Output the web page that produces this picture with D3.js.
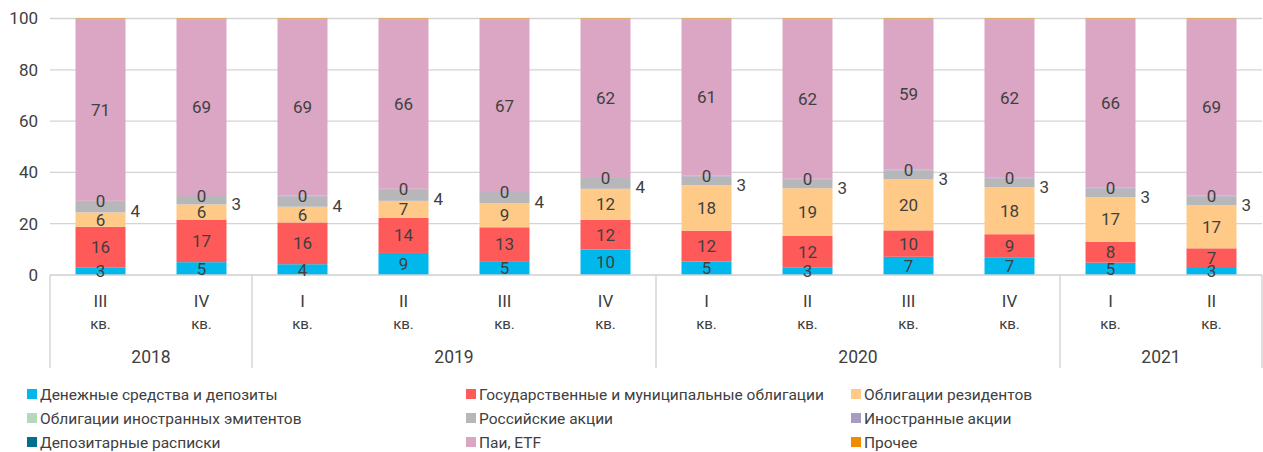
<!DOCTYPE html>
<html>
<head>
<meta charset="utf-8">
<script src="https://cdn.jsdelivr.net/npm/d3@7"></script>
<style>
  body { margin: 0; background: #fff; }
  svg text { font-family: Roboto, "Open Sans", sans-serif; fill: #404040; }
</style>
</head>
<body>
<script>
// quarters and years of the category axis
var quarters = ["III", "IV", "I", "II", "III", "IV", "I", "II", "III", "IV", "I", "II"];
var years = ["2018", "2018", "2019", "2019", "2019", "2019", "2020", "2020", "2020", "2020", "2021", "2021"];
var yTicks = [0, 20, 40, 60, 80, 100];

// shares, %
var cash        = [3.0, 5.0, 4.2, 8.6, 5.4, 9.9, 5.2, 3.0, 7.1, 6.7, 4.8, 3.1];
var govBonds    = [15.8, 16.6, 16.3, 13.7, 13.2, 11.6, 12.1, 12.2, 10.3, 9.2, 8.2, 7.3];
var resBonds    = [5.6, 5.9, 6.1, 6.6, 9.4, 12.1, 17.7, 18.6, 20.0, 18.3, 17.3, 16.9];
var forBonds    = [0, 0, 0, 0, 0, 0, 0, 0, 0, 0, 0, 0];
var rusShares   = [4.2, 3.3, 4.0, 4.4, 4.0, 4.2, 3.4, 3.4, 3.4, 3.4, 3.4, 3.3];
var forShares   = [0.3, 0.3, 0.3, 0.3, 0.3, 0.3, 0.3, 0.3, 0.3, 0.3, 0.3, 0.3];
var depReceipts = [0, 0, 0, 0, 0, 0, 0, 0, 0, 0, 0, 0];
var funds       = [70.8, 68.6, 68.8, 66.1, 67.4, 61.6, 61.0, 62.2, 58.6, 61.8, 65.7, 68.8];
var other       = [0.3, 0.3, 0.3, 0.3, 0.3, 0.3, 0.3, 0.3, 0.3, 0.3, 0.3, 0.3];

var seriesNames = [
    "Денежные средства и депозиты",
    "Государственные и муниципальные облигации",
    "Облигации резидентов",
    "Облигации иностранных эмитентов",
    "Российские акции",
    "Иностранные акции",
    "Депозитарные расписки",
    "Паи, ETF",
    "Прочее"
];
var seriesValues = [cash, govBonds, resBonds, forBonds, rusShares, forShares, depReceipts, funds, other];
var seriesColors = ["#00b8ec", "#ff5a5a", "#ffca87", "#b5d9b8", "#b7b7b9", "#a69dc0", "#00708e", "#dba6c4", "#f08c00"];
// how each series is labelled: in the bar, to the right, or not at all
var labelMode = ["in", "in", "in", "none", "right", "in", "none", "in", "none"];

var W = 1263, H = 452;
var plotLeft = 50, plotRight = 1262, plotTop = 18.5, plotBase = 275;

var svg = d3.select("body").append("svg")
    .attr("width", W)
    .attr("height", H);

var rows = quarters.map(function (q, i) {
    var r = { idx: i };
    seriesNames.forEach(function (n, s) { r[s] = seriesValues[s][i]; });
    return r;
});

var x = d3.scaleBand()
    .domain(d3.range(quarters.length))
    .range([plotLeft, plotRight])
    .paddingInner(0.505)
    .paddingOuter(0.2525);

var y = d3.scaleLinear().domain([0, 100]).range([plotBase, plotTop]);

// gridlines
svg.append("g").selectAll("line")
    .data(yTicks.filter(function (d) { return d > 0; }))
    .enter().append("line")
    .attr("x1", plotLeft).attr("x2", plotRight)
    .attr("y1", function (d) { return y(d); })
    .attr("y2", function (d) { return y(d); })
    .attr("stroke", "#d4d4d4")
    .attr("stroke-width", 1.3);

svg.append("g").selectAll("text")
    .data(yTicks)
    .enter().append("text")
    .attr("x", 38)
    .attr("y", function (d) { return y(d); })
    .attr("dy", "0.35em")
    .attr("text-anchor", "end")
    .style("font-size", "17px")
    .text(function (d) { return d; });

var stack = d3.stack().keys(d3.range(seriesNames.length));
var layers = stack(rows);

var fmt = d3.format(".0f");

layers.forEach(function (layer, s) {
    svg.append("g")
        .selectAll("rect")
        .data(layer)
        .enter().append("rect")
        .attr("x", function (d) { return x(d.data.idx); })
        .attr("width", x.bandwidth())
        .attr("y", function (d) { return y(d[1]); })
        .attr("height", function (d) { return y(d[0]) - y(d[1]); })
        .attr("fill", seriesColors[s]);
});

// category axis line and separators
svg.append("line")
    .attr("x1", plotLeft).attr("x2", plotRight)
    .attr("y1", plotBase).attr("y2", plotBase)
    .attr("stroke", "#cfcfcf").attr("stroke-width", 1.3);

var groups = [];
years.forEach(function (yr, i) {
    if (!groups.length || groups[groups.length - 1].year !== yr) {
        groups.push({ year: yr, start: i, end: i });
    } else {
        groups[groups.length - 1].end = i;
    }
});

var sepX = [plotLeft].concat(groups.map(function (g) {
    return x(g.end) + x.bandwidth() + x.step() * x.paddingInner() / 2;
}));
sepX[sepX.length - 1] = plotRight;
svg.append("g").selectAll("line")
    .data(sepX)
    .enter().append("line")
    .attr("x1", function (d) { return d; })
    .attr("x2", function (d) { return d; })
    .attr("y1", plotBase).attr("y2", 368)
    .attr("stroke", "#cfcfcf").attr("stroke-width", 1.3);

var cats = svg.append("g").selectAll("g")
    .data(quarters)
    .enter().append("g")
    .attr("transform", function (d, i) { return "translate(" + (x(i) + x.bandwidth() / 2) + ",0)"; });
cats.append("text")
    .attr("y", 301).attr("dy", "0.35em")
    .attr("text-anchor", "middle")
    .style("font-size", "17px")
    .text(function (d) { return d; });
cats.append("text")
    .attr("y", 324).attr("dy", "0.35em")
    .attr("text-anchor", "middle")
    .style("font-size", "15px")
    .text("кв.");

svg.append("g").selectAll("text")
    .data(groups)
    .enter().append("text")
    .attr("x", function (g) { return (x(g.start) + x(g.end) + x.bandwidth()) / 2; })
    .attr("y", 357).attr("dy", "0.35em")
    .attr("text-anchor", "middle")
    .style("font-size", "17.5px")
    .text(function (g) { return g.year; });

// value labels
layers.forEach(function (layer, s) {
    if (labelMode[s] === "none") return;
    svg.append("g")
        .selectAll("text")
        .data(layer)
        .enter().append("text")
        .attr("x", function (d) {
            return labelMode[s] === "right" ? x(d.data.idx) + x.bandwidth() + 5 : x(d.data.idx) + x.bandwidth() / 2;
        })
        .attr("y", function (d) {
            var mid = (y(d[0]) + y(d[1])) / 2;
            return labelMode[s] === "right" ? mid + 4 : mid;
        })
        .attr("dy", "0.35em")
        .attr("text-anchor", labelMode[s] === "right" ? "start" : "middle")
        .style("font-size", "17px")
        .text(function (d) { return fmt(d[1] - d[0]); });
});

// legend
var legCols = [27, 466, 851];
var legRows = [395, 419, 443];
var leg = svg.append("g").selectAll("g")
    .data(seriesNames)
    .enter().append("g")
    .attr("transform", function (d, i) { return "translate(" + legCols[i % 3] + "," + legRows[Math.floor(i / 3)] + ")"; });
leg.append("rect")
    .attr("x", 0).attr("y", -6)
    .attr("width", 10).attr("height", 10)
    .attr("fill", function (d, i) { return seriesColors[i]; });
leg.append("text")
    .attr("x", 13).attr("y", 0)
    .attr("dy", "0.35em")
    .style("font-size", "15.5px")
    .text(function (d) { return d; });
</script>
</body>
</html>
